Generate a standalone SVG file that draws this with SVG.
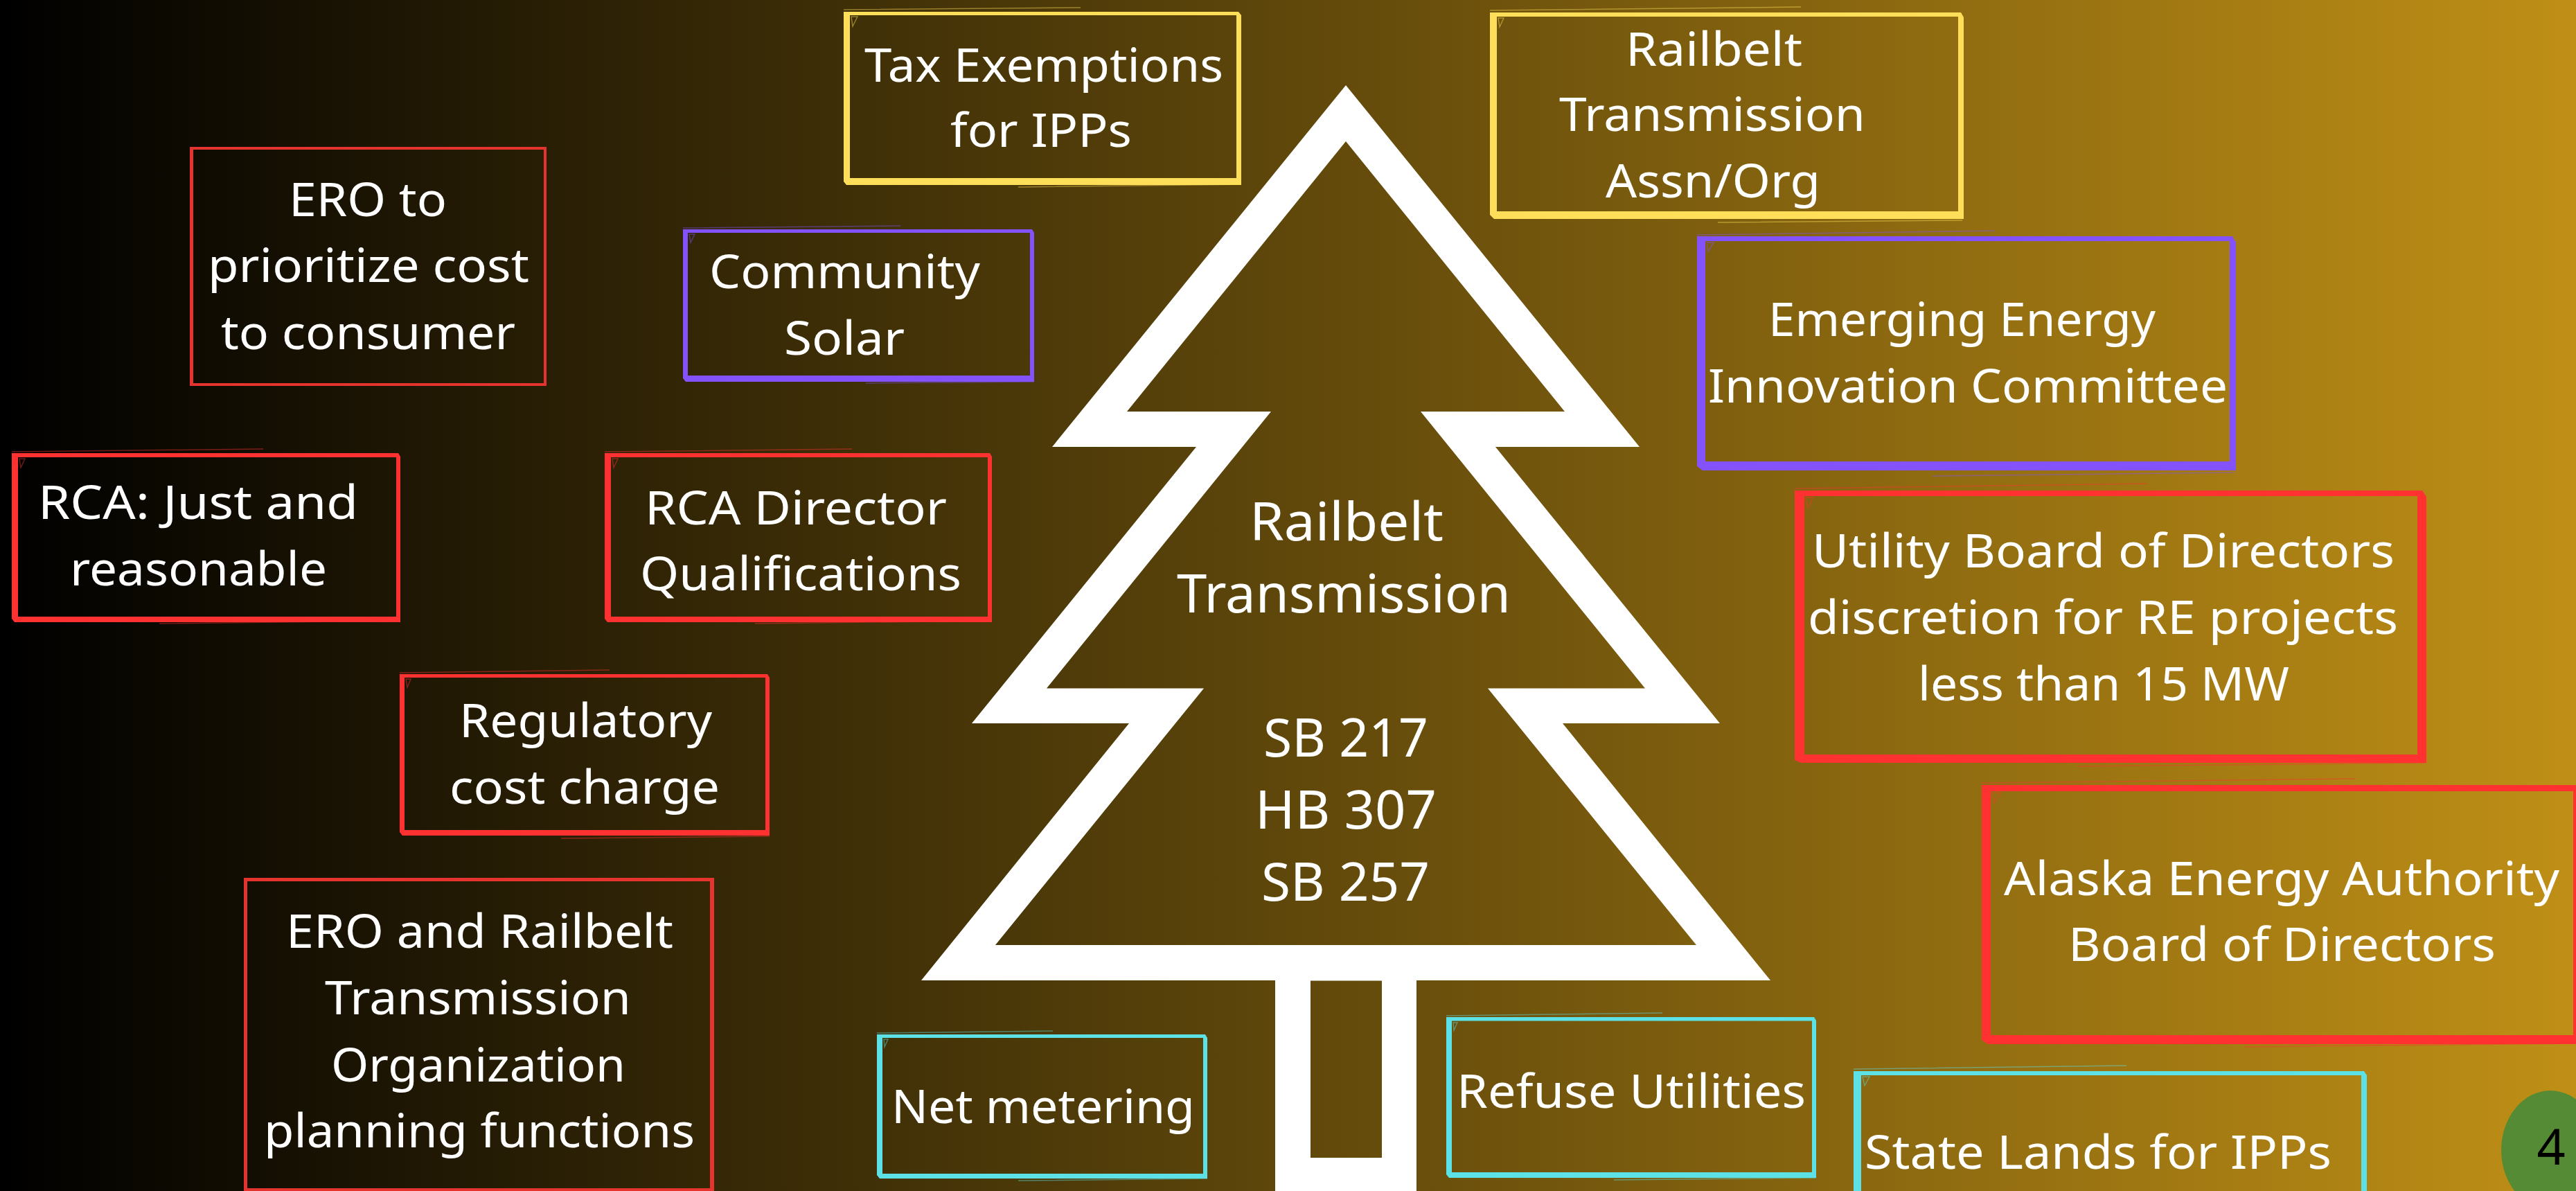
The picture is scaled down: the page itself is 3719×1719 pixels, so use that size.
<svg xmlns="http://www.w3.org/2000/svg" width="3719" height="1719" viewBox="0 0 3719 1719">
<defs><linearGradient id="bg" x1="0" y1="0" x2="1" y2="0"><stop offset="0" stop-color="#000"/><stop offset="1" stop-color="#bf8f16"/></linearGradient></defs>
<style>
text{font-family:"Noto Sans","Liberation Sans",sans-serif;font-size:68px;fill:#fff}
.big{font-size:76px}
.ring{fill:currentColor;fill-rule:evenodd}
.sk{stroke:currentColor;stroke-width:1.5;opacity:.45;fill:none}
.r{color:#ff3131}.d{color:#e5332e}.y{color:#ffde59}.p{color:#8352fa}.c{color:#5ce1e6}
</style>
<rect width="3719" height="1719" fill="url(#bg)"/>
<g id="tree">
<path fill="#fff" fill-rule="evenodd" d="M1943 123L2367 645H2159L2483 1044H2256L2556 1415H2045V1719H1841V1415H1330L1630 1044H1403L1727 645H1519ZM1943 204L1627 594H1835L1511 993.5H1738L1437 1364H2449L2148 993.5H2375L2051 594H2259ZM1892 1415.5V1671H1995V1415.5Z"/>
<text class="big" x="1804" y="780" textLength="280" lengthAdjust="spacingAndGlyphs">Railbelt</text>
<text class="big" x="1699" y="884" textLength="482" lengthAdjust="spacingAndGlyphs">Transmission</text>
<text class="big" x="1824" y="1092" textLength="238" lengthAdjust="spacingAndGlyphs">SB 217</text>
<text class="big" x="1812" y="1196" textLength="262" lengthAdjust="spacingAndGlyphs">HB 307</text>
<text class="big" x="1821" y="1300" textLength="243" lengthAdjust="spacingAndGlyphs">SB 257</text>
</g>
<g id="box-ero-prioritize" class="d">
<path class="ring" d="M274 212H789V557H274ZM279 216V553H785V216Z"/>
<text x="417" y="312" textLength="228" lengthAdjust="spacingAndGlyphs">ERO to</text>
<text x="300" y="407" textLength="464" lengthAdjust="spacingAndGlyphs">prioritize cost</text>
<text x="319" y="504" textLength="425" lengthAdjust="spacingAndGlyphs">to consumer</text>
</g>
<g id="box-tax" class="y">
<path class="ring" d="M1218 17H1788L1792 22V267H1222L1218 262ZM1227 22V257H1785V22Z"/>
<path class="sk" d="M1218 14L1560 11M1470 270L1792 266M1229 24h9l-7 14z"/>
<text x="1248" y="118" textLength="518" lengthAdjust="spacingAndGlyphs">Tax Exemptions</text>
<text x="1372" y="212" textLength="262" lengthAdjust="spacingAndGlyphs">for IPPs</text>
</g>
<g id="box-community" class="p">
<path class="ring" d="M986 331H1490L1493 336V551H990L986 546ZM993 336V542H1487V336Z"/>
<path class="sk" d="M986 329L1300 326M1250 553L1493 551M995 338h8l-6 12z"/>
<text x="1024" y="416" textLength="391" lengthAdjust="spacingAndGlyphs">Community</text>
<text x="1132" y="512" textLength="174" lengthAdjust="spacingAndGlyphs">Solar</text>
</g>
<g id="box-rca-just" class="r">
<path class="ring" d="M17 654H575L578 659V898H21L17 893ZM26 660V890H572V660Z"/>
<path class="sk" d="M17 652L380 648M230 900L578 896M28 662h8l-6 13z"/>
<text x="55" y="749" textLength="462" lengthAdjust="spacingAndGlyphs">RCA: Just and</text>
<text x="101" y="845" textLength="371" lengthAdjust="spacingAndGlyphs">reasonable</text>
</g>
<g id="box-rca-director" class="r">
<path class="ring" d="M873 654H1429L1432 659V898H877L873 893ZM882 660V890H1426V660Z"/>
<path class="sk" d="M873 652L1230 648M1090 900L1432 896M884 662h8l-6 13z"/>
<text x="931" y="757" textLength="436" lengthAdjust="spacingAndGlyphs">RCA Director</text>
<text x="924" y="852" textLength="464" lengthAdjust="spacingAndGlyphs">Qualifications</text>
</g>
<g id="box-regulatory" class="r">
<path class="ring" d="M577 973H1108L1111 978V1206H581L577 1201ZM584 978V1198H1105V978Z"/>
<path class="sk" d="M577 971L880 967M810 1210L1111 1207M586 980h7l-5 12z"/>
<text x="663" y="1064" textLength="365" lengthAdjust="spacingAndGlyphs">Regulatory</text>
<text x="649" y="1160" textLength="390" lengthAdjust="spacingAndGlyphs">cost charge</text>
</g>
<g id="box-ero-railbelt" class="d">
<path class="ring" d="M352 1267H1031V1719H352ZM357 1272V1715H1025V1272Z"/>
<text x="413" y="1368" textLength="559" lengthAdjust="spacingAndGlyphs">ERO and Railbelt</text>
<text x="469" y="1464" textLength="442" lengthAdjust="spacingAndGlyphs">Transmission</text>
<text x="478" y="1561" textLength="425" lengthAdjust="spacingAndGlyphs">Organization</text>
<text x="381" y="1656" textLength="622" lengthAdjust="spacingAndGlyphs">planning functions</text>
</g>
<g id="box-net-metering" class="c">
<path class="ring" d="M1266 1493H1740L1743 1498V1701H1270L1266 1696ZM1274 1498V1694H1737V1498Z"/>
<path class="sk" d="M1266 1491L1520 1488M1470 1704L1743 1701M1276 1500h6l-5 11z"/>
<text x="1287" y="1621" textLength="438" lengthAdjust="spacingAndGlyphs">Net metering</text>
</g>
<g id="box-refuse" class="c">
<path class="ring" d="M2088 1468H2619L2622 1473V1700H2092L2088 1695ZM2096 1473.5V1692H2616V1473.5Z"/>
<path class="sk" d="M2088 1466L2400 1462M2330 1703L2622 1700M2098 1476h6l-5 11z"/>
<text x="2103" y="1599" textLength="504" lengthAdjust="spacingAndGlyphs">Refuse Utilities</text>
</g>
<g id="box-state-lands" class="c">
<path class="ring" d="M2676 1546H3413L3417 1552V1719H2676ZM2687 1552V1719H3409V1552Z"/>
<path class="sk" d="M2676 1543L3070 1538M2689 1554h10l-7 13z"/>
<text x="2692" y="1687" textLength="674" lengthAdjust="spacingAndGlyphs">State Lands for IPPs</text>
</g>
<g id="box-aea" class="r">
<path class="ring" d="M2861 1133H3719V1507H2870L2861 1501ZM2874 1142V1494H3715V1142Z"/>
<path class="sk" d="M2861 1130L3400 1124M3240 1511L3719 1506M2876 1144h12l-9 15z"/>
<text x="2893" y="1292" textLength="802" lengthAdjust="spacingAndGlyphs">Alaska Energy Authority</text>
<text x="2986" y="1387" textLength="617" lengthAdjust="spacingAndGlyphs">Board of Directors</text>
</g>
<g id="box-utility" class="r">
<path class="ring" d="M2591 708H3497L3503 717V1101H2600L2591 1097ZM2605 716V1089H3490V716Z"/>
<path class="sk" d="M2591 705L3100 698M3000 1106L3503 1101M2607 718h11l-8 15z"/>
<text x="2616" y="819" textLength="841" lengthAdjust="spacingAndGlyphs">Utility Board of Directors</text>
<text x="2610" y="915" textLength="852" lengthAdjust="spacingAndGlyphs">discretion for RE projects</text>
<text x="2769" y="1011" textLength="536" lengthAdjust="spacingAndGlyphs">less than 15 MW</text>
</g>
<g id="box-emerging" class="p">
<path class="ring" d="M2450 341H3223L3228 350V679H2458L2450 673ZM2462 348V666H3219V348Z"/>
<path class="sk" d="M2450 339L2880 333M2790 687L3226 682M2464 350h10l-8 13z"/>
<text x="2553" y="485" textLength="559" lengthAdjust="spacingAndGlyphs">Emerging Energy</text>
<text x="2466" y="581" textLength="750" lengthAdjust="spacingAndGlyphs">Innovation Committee</text>
</g>
<g id="box-railbelt-assn" class="y">
<path class="ring" d="M2151 18H2831L2835 25V316H2157L2151 310ZM2161 24V305H2827V24Z"/>
<path class="sk" d="M2151 15L2600 10M2480 321L2833 318M2163 26h8l-6 13z"/>
<text x="2347" y="95" textLength="255" lengthAdjust="spacingAndGlyphs">Railbelt</text>
<text x="2251" y="189" textLength="442" lengthAdjust="spacingAndGlyphs">Transmission</text>
<text x="2318" y="285" textLength="310" lengthAdjust="spacingAndGlyphs">Assn/Org</text>
</g>
<g id="page-number">
<ellipse cx="3682" cy="1660" rx="71" ry="86" fill="#568b36"/>
<text x="3683" y="1681" text-anchor="middle" style="fill:#000;font-size:72px">4</text>
</g>
</svg>
